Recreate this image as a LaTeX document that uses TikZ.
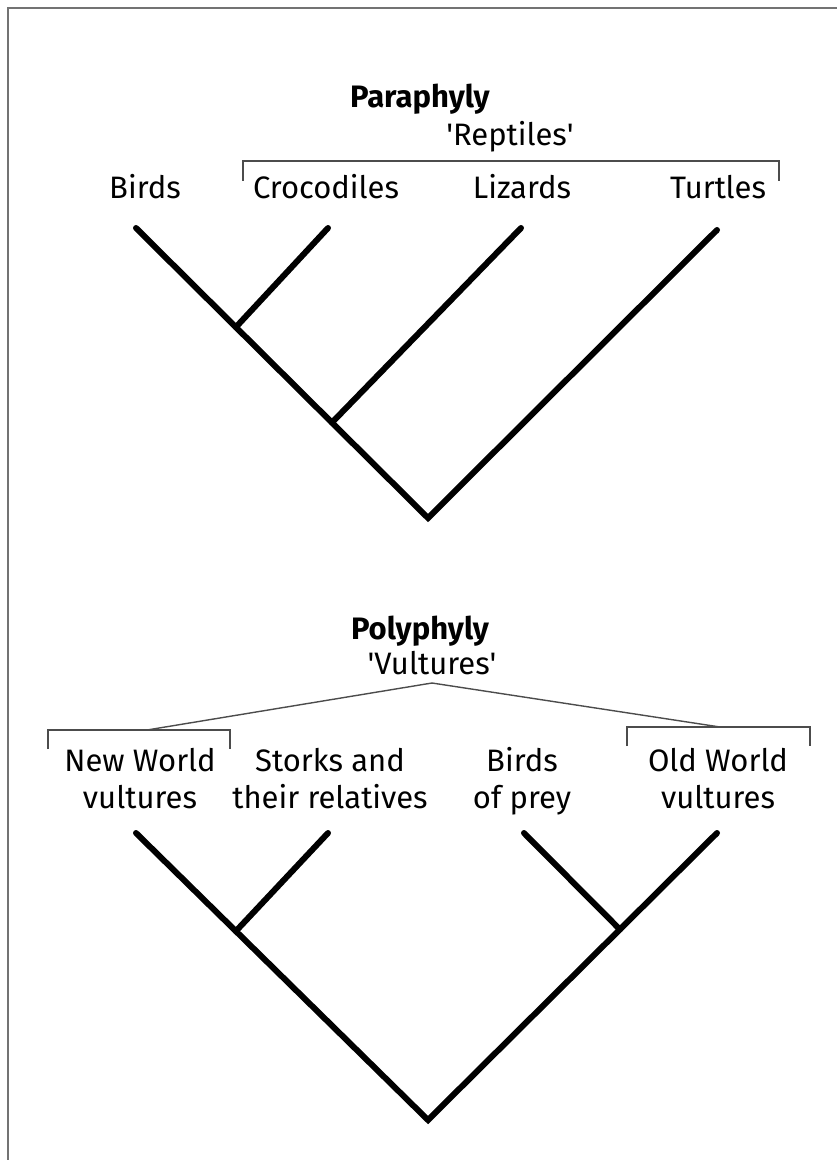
\documentclass[tikz,border=0pt]{standalone}
\usepackage{fontspec}
\setmainfont{Fira Sans}
\usetikzlibrary{calc}

\tikzset{
  branch/.style={line width=3pt, line cap=round},
  bracket/.style={line width=0.7pt, black!70},
  taxon/.style={font=\fontsize{15.5}{18.5}\selectfont, align=center, inner sep=0pt},
  heading/.style={font=\fontsize{15.5}{18.5}\selectfont\bfseries, inner sep=0pt}
}

\begin{document}
\begin{tikzpicture}[x=0.5pt,y=-0.5pt]
  \useasboundingbox (0,0) rectangle (837,1160);
  % frame
  \draw[line width=0.6pt, black!55] (8,1160) -- (8,8) -- (837,8);

  % paraphyly
  \node[heading, anchor=base] (para) at (420,108) {Paraphyly};
  \coordinate (birds) at (136,228);
  \coordinate (croc)  at (328,228);
  \coordinate (liz)   at (521,228);
  \coordinate (turt)  at (717,230);
  \coordinate (rootA) at (428,518);
  \coordinate (nA1) at ($(birds)!0.342!(rootA)$);
  \coordinate (nA2) at ($(birds)!0.671!(rootA)$);
  \draw[branch] (birds) -- (rootA) -- (turt);
  \draw[branch] (nA1) -- (croc);
  \draw[branch] (nA2) -- (liz);

  \node[taxon, anchor=base] (lbirds) at (145,199) {Birds};
  \node[taxon, anchor=base] (lcroc)  at (326,199) {Crocodiles};
  \node[taxon, anchor=base] (lliz)   at (522,199) {Lizards};
  \node[taxon, anchor=base] (lturt)  at (718,199) {Turtles};

  \node[taxon, anchor=base] (rept) at (510,146) {\textquotesingle Reptiles\textquotesingle};
  \coordinate (brA1) at (243,181);
  \coordinate (brA2) at (779,181);
  \draw[bracket] (brA1) -- ++(0,-20) -| (brA2);

  % polyphyly
  \node[heading, anchor=base] (poly) at (420,639) {Polyphyly};
  \coordinate (nwv)   at (136,833);
  \coordinate (stork) at (328,833);
  \coordinate (prey)  at (524,833);
  \coordinate (owv)   at (717,833);
  \coordinate (rootB) at (428,1120);
  \coordinate (nB1) at ($(nwv)!0.342!(rootB)$);
  \coordinate (nB2) at ($(owv)!0.336!(rootB)$);
  \draw[branch] (nwv) -- (rootB) -- (owv);
  \draw[branch] (nB1) -- (stork);
  \draw[branch] (nB2) -- (prey);

  \node[taxon] (lnwv)   at (140,779) {New World\\vultures};
  \node[taxon] (lstork) at (330,779) {Storks and\\their relatives};
  \node[taxon] (lprey)  at (522,781) {Birds\\of prey};
  \node[taxon] (lowv)   at (718,779) {Old World\\vultures};

  \node[taxon, anchor=base] (vult) at (432,674) {\textquotesingle Vultures\textquotesingle};
  \coordinate (apex) at (432,683);
  \coordinate (brB1) at (48,749);
  \coordinate (brB2) at (230,749);
  \coordinate (brB3) at (627,746);
  \coordinate (brB4) at (810,746);
  \draw[bracket] (brB1) -- ++(0,-19) -| (brB2);
  \draw[bracket] (brB3) -- ++(0,-19) -| (brB4);
  \draw[bracket] (apex) -- (147,730);
  \draw[bracket] (apex) -- (720,727);
\end{tikzpicture}
\end{document}
